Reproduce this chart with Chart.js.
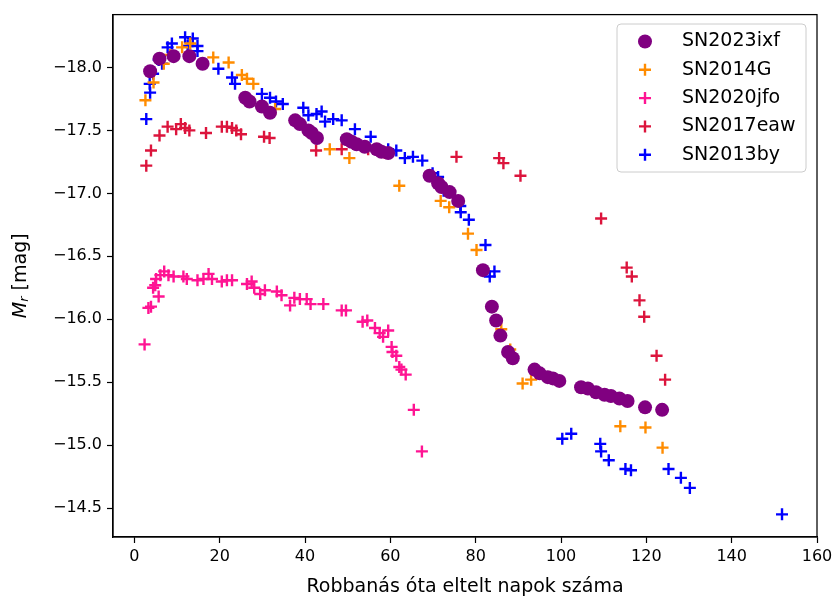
<!DOCTYPE html>
<html>
<head>
<meta charset="utf-8">
<script src="https://cdn.jsdelivr.net/npm/chart.js@4.4.1/dist/chart.umd.min.js"></script>
<style>
  html, body { margin: 0; padding: 0; background: #fff; }
  canvas { display: block; }
</style>
</head>
<body>
<canvas id="myChart" width="838" height="599"></canvas>
<script>
// napok a robbanás óta / abszolút r magnitúdó
const ixfDays = [3.7, 5.9, 9.2, 12.9, 16.0, 26.0, 27.0, 29.9, 31.8, 37.7, 38.8, 40.8, 41.6, 42.8, 49.8, 50.9, 52.1, 54.0, 56.8, 57.9, 59.5, 69.2, 71.2, 72.0, 73.9, 75.9, 81.7, 83.8, 84.8, 85.8, 87.6, 88.7, 93.8, 95.0, 96.9, 98.1, 99.6, 104.7, 106.3, 108.2, 110.2, 111.7, 113.7, 115.6, 119.7, 123.7];
const ixfMag = [-17.97, -18.07, -18.09, -18.09, -18.03, -17.76, -17.73, -17.69, -17.64, -17.58, -17.55, -17.50, -17.48, -17.44, -17.43, -17.41, -17.39, -17.37, -17.35, -17.33, -17.32, -17.14, -17.08, -17.05, -17.01, -16.94, -16.39, -16.10, -15.99, -15.87, -15.74, -15.69, -15.60, -15.57, -15.54, -15.53, -15.51, -15.46, -15.45, -15.42, -15.40, -15.39, -15.37, -15.35, -15.30, -15.28];

const g14Days = [2.6, 4.5, 6.9, 8.4, 11.2, 13.1, 18.5, 22.1, 25.2, 26.4, 27.9, 33.0, 38.1, 45.8, 50.4, 62.1, 71.8, 73.8, 78.2, 80.2, 86.0, 88.1, 91.0, 93.0, 113.9, 119.8, 123.8];
const g14Mag = [-17.74, -17.88, -18.03, -18.10, -18.16, -18.19, -18.08, -18.04, -17.94, -17.91, -17.87, -17.67, -17.58, -17.35, -17.28, -17.06, -16.94, -16.89, -16.68, -16.55, -15.92, -15.76, -15.49, -15.52, -15.15, -15.14, -14.98];

const jfoDays = [2.4, 3.3, 3.9, 4.4, 4.9, 5.1, 5.7, 6.1, 7.0, 8.0, 9.2, 11.5, 12.3, 14.8, 16.2, 17.4, 18.2, 20.5, 21.7, 22.9, 26.4, 27.5, 28.1, 29.5, 30.6, 33.4, 34.5, 36.5, 37.5, 38.8, 40.4, 41.3, 44.3, 48.6, 49.6, 53.5, 54.6, 56.4, 57.5, 58.3, 59.5, 60.3, 60.5, 61.4, 62.1, 62.6, 63.6, 65.5, 67.4];
const jfoMag = [-15.80, -16.09, -16.10, -16.25, -16.27, -16.32, -16.18, -16.35, -16.38, -16.35, -16.34, -16.34, -16.32, -16.31, -16.32, -16.36, -16.32, -16.30, -16.31, -16.31, -16.28, -16.30, -16.25, -16.20, -16.23, -16.22, -16.19, -16.11, -16.17, -16.16, -16.16, -16.12, -16.12, -16.07, -16.07, -15.98, -15.99, -15.93, -15.89, -15.86, -15.91, -15.78, -15.74, -15.71, -15.62, -15.60, -15.56, -15.28, -14.95];

const eawDays = [2.8, 3.9, 5.9, 7.8, 9.8, 10.9, 11.9, 12.9, 16.8, 20.5, 21.7, 22.9, 23.9, 25.0, 30.4, 31.7, 42.6, 48.6, 54.8, 58.7, 75.5, 85.5, 86.5, 90.5, 109.4, 115.4, 116.6, 118.4, 119.5, 122.4, 124.4];
const eawMag = [-17.22, -17.34, -17.46, -17.53, -17.51, -17.55, -17.52, -17.50, -17.48, -17.53, -17.53, -17.52, -17.50, -17.47, -17.45, -17.44, -17.34, -17.35, -17.35, -17.32, -17.29, -17.28, -17.24, -17.14, -16.80, -16.41, -16.34, -16.15, -16.02, -15.71, -15.52];

const byDays = [2.8, 3.6, 3.7, 4.4, 5.7, 6.5, 7.8, 8.8, 11.9, 12.5, 13.7, 14.8, 14.8, 19.7, 22.9, 23.6, 29.9, 31.8, 33.2, 34.8, 39.6, 40.8, 42.7, 43.9, 44.7, 46.6, 48.6, 51.7, 55.4, 59.5, 61.4, 63.4, 65.3, 67.5, 69.9, 71.2, 72.5, 76.4, 76.5, 78.4, 82.3, 83.3, 84.4, 100.3, 102.4, 109.2, 109.4, 111.2, 115.1, 116.4, 125.2, 128.1, 130.2, 151.8];
const byMag = [-17.59, -17.87, -17.80, -17.95, -18.06, -18.03, -18.16, -18.19, -18.24, -18.17, -18.23, -18.17, -18.13, -17.99, -17.92, -17.87, -17.79, -17.76, -17.73, -17.71, -17.68, -17.62, -17.63, -17.65, -17.57, -17.59, -17.58, -17.51, -17.45, -17.35, -17.34, -17.28, -17.29, -17.26, -17.16, -17.13, -17.02, -16.90, -16.85, -16.79, -16.59, -16.34, -16.38, -15.05, -15.09, -15.01, -14.95, -14.88, -14.81, -14.80, -14.81, -14.74, -14.66, -14.45];

const xTicks = [0, 20, 40, 60, 80, 100, 120, 140, 160];
const yTicks = [-18.0, -17.5, -17.0, -16.5, -16.0, -15.5, -15.0, -14.5];

const FONT = 'DejaVu Sans';
const FS_TICK = 16;
const FS = 19;

const pts = (xs, ys) => xs.map((x, i) => ({ x: x, y: ys[i] }));

const series = [
    { label: 'SN2023ixf', data: pts(ixfDays, ixfMag), color: '#800080', style: 'circle', r: 7, bw: 0 },
    { label: 'SN2014G', data: pts(g14Days, g14Mag), color: '#ff8c00', style: 'cross', r: 6, bw: 2.4 },
    { label: 'SN2020jfo', data: pts(jfoDays, jfoMag), color: '#ff1493', style: 'cross', r: 6, bw: 2.4 },
    { label: 'SN2017eaw', data: pts(eawDays, eawMag), color: '#dc143c', style: 'cross', r: 6, bw: 2.4 },
    { label: 'SN2013by', data: pts(byDays, byMag), color: '#0000ff', style: 'cross', r: 6, bw: 2.4 }
];

const fmtTick = v => (v < 0 ? '\u2212' : '') + Math.abs(v).toFixed(1);

// keret, tengelyfeliratok és jelmagyarázat
const decor = {
    id: 'decor',
    afterDatasetsDraw(chart) {
        const { ctx, chartArea: a } = chart;
        ctx.save();
        ctx.strokeStyle = '#000';
        ctx.lineWidth = 1.25;
        ctx.strokeRect(a.left, a.top, a.right - a.left, a.bottom - a.top);
        ctx.restore();
    },
    afterDraw(chart) {
        const { ctx, chartArea: a } = chart;
        ctx.save();
        ctx.fillStyle = '#000';
        ctx.textBaseline = 'middle';

        // x cím
        ctx.font = FS + 'px "' + FONT + '"';
        ctx.textAlign = 'center';
        ctx.fillText('Robbanás óta eltelt napok száma', (a.left + a.right) / 2, 587);

        // y cím: M_r [mag]
        ctx.save();
        ctx.translate(21, (a.top + a.bottom) / 2);
        ctx.rotate(-Math.PI / 2);
        ctx.textAlign = 'left';
        const fItal = 'italic ' + FS + 'px "' + FONT + '"';
        const fSub = 'italic ' + Math.round(FS * 0.7) + 'px "' + FONT + '"';
        const fNorm = FS + 'px "' + FONT + '"';
        ctx.font = fItal; const wM = ctx.measureText('M').width;
        ctx.font = fSub; const wR = ctx.measureText('r').width;
        ctx.font = fNorm; const wT = ctx.measureText(' [mag]').width;
        let x0 = -(wM + wR + wT) / 2;
        ctx.font = fItal; ctx.fillText('M', x0, 0); x0 += wM;
        ctx.font = fSub; ctx.fillText('r', x0, 4); x0 += wR;
        ctx.font = fNorm; ctx.fillText(' [mag]', x0, 0);
        ctx.restore();

        // jelmagyarázat
        const bx = 617, by = 24, bw = 189, bh = 148, rad = 4;
        ctx.beginPath();
        ctx.moveTo(bx + rad, by);
        ctx.arcTo(bx + bw, by, bx + bw, by + bh, rad);
        ctx.arcTo(bx + bw, by + bh, bx, by + bh, rad);
        ctx.arcTo(bx, by + bh, bx, by, rad);
        ctx.arcTo(bx, by, bx + bw, by, rad);
        ctx.closePath();
        ctx.fillStyle = 'rgba(255,255,255,0.8)';
        ctx.fill();
        ctx.strokeStyle = '#cccccc';
        ctx.lineWidth = 1;
        ctx.stroke();

        ctx.font = FS + 'px "' + FONT + '"';
        ctx.textAlign = 'left';
        series.forEach((s, i) => {
            const y = 41.5 + i * 28.3;
            const mx = 645;
            if (s.style === 'circle') {
                ctx.beginPath();
                ctx.arc(mx, y, 7, 0, Math.PI * 2);
                ctx.fillStyle = s.color;
                ctx.fill();
            } else {
                ctx.strokeStyle = s.color;
                ctx.lineWidth = 2.4;
                ctx.beginPath();
                ctx.moveTo(mx - 6, y); ctx.lineTo(mx + 6, y);
                ctx.moveTo(mx, y - 6); ctx.lineTo(mx, y + 6);
                ctx.stroke();
            }
            ctx.fillStyle = '#000';
            ctx.fillText(s.label, 682, y);
        });
        ctx.restore();
    }
};

const ctx = document.getElementById('myChart').getContext('2d');
new Chart(ctx, {
    type: 'scatter',
    data: {
        datasets: series.map(s => ({
            label: s.label,
            data: s.data,
            pointStyle: s.style,
            pointRadius: s.r,
            pointHoverRadius: s.r,
            pointBackgroundColor: s.color,
            pointBorderColor: s.color,
            pointBorderWidth: s.bw,
            showLine: false
        }))
    },
    options: {
        responsive: false,
        animation: false,
        devicePixelRatio: 1,
        layout: { padding: { left: 0, top: 14, right: 21, bottom: 0 } },
        plugins: { legend: { display: false }, tooltip: { enabled: false } },
        scales: {
            x: {
                type: 'linear',
                min: -5,
                max: 160,
                afterBuildTicks: scale => { scale.ticks = xTicks.map(v => ({ value: v })); },
                afterFit: scale => { scale.height = 62; },
                ticks: {
                    color: '#000',
                    font: { family: FONT, size: FS_TICK },
                    padding: 4,
                    maxRotation: 0,
                    callback: v => String(v)
                },
                grid: { drawOnChartArea: false, drawTicks: true, tickLength: 6, color: '#000', tickWidth: 1.2 },
                border: { display: true, color: '#000', width: 1.25 }
            },
            y: {
                type: 'linear',
                reverse: true,
                min: -18.42,
                max: -14.27,
                afterBuildTicks: scale => { scale.ticks = yTicks.map(v => ({ value: v })); },
                afterFit: scale => { scale.width = 113; },
                ticks: {
                    color: '#000',
                    font: { family: FONT, size: FS_TICK },
                    padding: 5,
                    callback: v => fmtTick(v)
                },
                grid: { drawOnChartArea: false, drawTicks: true, tickLength: 6, color: '#000', tickWidth: 1.2 },
                border: { display: true, color: '#000', width: 1.25 }
            }
        }
    },
    plugins: [decor]
});
</script>
</body>
</html>
